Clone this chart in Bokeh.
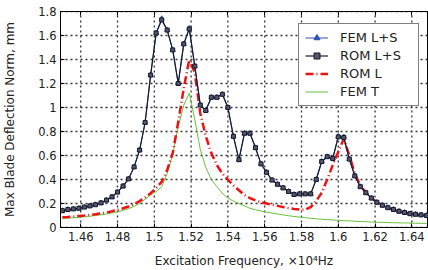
from bokeh.plotting import figure
from bokeh.models import FixedTicker, LinearAxis, Legend, LegendItem, Range1d
from bokeh.embed import file_html
from bokeh.resources import INLINE

# Excitation frequency (x 10^4 Hz)
freq = [1.450, 1.453, 1.456, 1.459, 1.462, 1.465, 1.468, 1.471, 1.474, 1.477,
        1.480, 1.483, 1.486, 1.489, 1.492, 1.495, 1.498, 1.501, 1.504, 1.507,
        1.510, 1.513, 1.516, 1.519, 1.522, 1.525, 1.528, 1.531, 1.534, 1.537,
        1.540, 1.543, 1.546, 1.549, 1.552, 1.555, 1.558, 1.561, 1.564, 1.567,
        1.570, 1.573, 1.576, 1.579, 1.582, 1.585, 1.588, 1.591, 1.594, 1.597,
        1.600, 1.603, 1.606, 1.609, 1.612, 1.615, 1.618, 1.621, 1.624, 1.627,
        1.630, 1.633, 1.636, 1.639, 1.642, 1.645, 1.648]

rom_ls = [0.14, 0.15, 0.155, 0.16, 0.17, 0.18, 0.19, 0.205, 0.228, 0.255,
          0.295, 0.345, 0.405, 0.505, 0.645, 0.875, 1.27, 1.62, 1.73, 1.645,
          1.48, 1.20, 1.53, 1.655, 1.345, 1.02, 0.975, 1.085, 1.085, 1.11,
          1.00, 0.76, 0.565, 0.785, 0.785, 0.665, 0.53, 0.46, 0.395, 0.36,
          0.33, 0.30, 0.275, 0.28, 0.28, 0.28, 0.40, 0.55, 0.59, 0.575,
          0.755, 0.75, 0.57, 0.43, 0.34, 0.29, 0.245, 0.21, 0.185, 0.165,
          0.15, 0.135, 0.125, 0.115, 0.11, 0.105, 0.10]

fem_ls = [0.14, 0.15, 0.155, 0.16, 0.17, 0.18, 0.19, 0.205, 0.228, 0.255,
          0.295, 0.345, 0.405, 0.505, 0.645, 0.875, 1.27, 1.62, 1.74, 1.645,
          1.48, 1.20, 1.53, 1.66, 1.345, 1.02, 0.975, 1.085, 1.085, 1.11,
          1.00, 0.76, 0.565, 0.785, 0.785, 0.665, 0.53, 0.46, 0.395, 0.36,
          0.33, 0.30, 0.275, 0.28, 0.28, 0.28, 0.40, 0.55, 0.59, 0.575,
          0.76, 0.755, 0.57, 0.43, 0.34, 0.29, 0.245, 0.21, 0.185, 0.165,
          0.15, 0.135, 0.125, 0.115, 0.11, 0.105, 0.10]

rom_l = [0.085, 0.088, 0.092, 0.096, 0.10, 0.105, 0.11, 0.117, 0.125, 0.135,
         0.148, 0.16, 0.175, 0.195, 0.22, 0.25, 0.285, 0.33, 0.38, 0.48,
         0.62, 0.88, 1.16, 1.40, 1.29, 0.95, 0.76, 0.62, 0.52, 0.45,
         0.40, 0.35, 0.31, 0.27, 0.245, 0.225, 0.21, 0.20, 0.19, 0.18,
         0.17, 0.162, 0.155, 0.15, 0.148, 0.17, 0.22, 0.29, 0.40, 0.52,
         0.63, 0.74, 0.60, 0.45, 0.35, 0.29, 0.245, 0.21, 0.185, 0.165,
         0.148, 0.135, 0.125, 0.115, 0.108, 0.102, 0.097]

fem_t = [0.075, 0.078, 0.081, 0.085, 0.089, 0.094, 0.10, 0.106, 0.113, 0.121,
         0.13, 0.142, 0.157, 0.176, 0.20, 0.235, 0.27, 0.30, 0.34, 0.45,
         0.61, 0.84, 1.02, 1.12, 0.90, 0.65, 0.50, 0.40, 0.34, 0.285,
         0.245, 0.22, 0.20, 0.18, 0.16, 0.148, 0.137, 0.128, 0.12, 0.112,
         0.105, 0.098, 0.092, 0.087, 0.082, 0.077, 0.073, 0.069, 0.066, 0.063,
         0.06, 0.057, 0.055, 0.052, 0.05, 0.048, 0.046, 0.044, 0.043, 0.041,
         0.04, 0.039, 0.038, 0.037, 0.036, 0.035, 0.034]

xticks = [1.46, 1.48, 1.50, 1.52, 1.54, 1.56, 1.58, 1.60, 1.62, 1.64]
xtick_labels = ["1.46", "1.48", "1.5", "1.52", "1.54", "1.56", "1.58", "1.6", "1.62", "1.64"]
yticks = [0, 0.2, 0.4, 0.6, 0.8, 1.0, 1.2, 1.4, 1.6, 1.8]
ytick_labels = ["0", "0.2", "0.4", "0.6", "0.8", "1", "1.2", "1.4", "1.6", "1.8"]

FONT = "DejaVu Sans"
X0, X1 = 1.449, 1.6485
Y0, Y1 = 0, 1.8
NAN = float("nan")

p = figure(width=428, height=270, x_range=Range1d(X0, X1), y_range=Range1d(Y0, Y1),
           output_backend="svg", toolbar_location=None,
           min_border_left=59, min_border_right=1, min_border_top=11, min_border_bottom=43)
p.background_fill_color = "white"
p.border_fill_color = "white"
p.outline_line_color = "black"
p.outline_line_width = 1
p.grid.visible = False

p.xaxis.ticker = FixedTicker(ticks=xticks)
p.xaxis.major_label_overrides = {t: l for t, l in zip(xticks, xtick_labels)}
p.yaxis.ticker = FixedTicker(ticks=yticks)
p.yaxis.major_label_overrides = {t: l for t, l in zip(yticks, ytick_labels)}

# dotted grid: one broken line through all tick positions
gx, gy = [], []
for t in xticks:
    gx += [t, t, NAN]
    gy += [Y0, Y1, NAN]
for t in yticks:
    gx += [X0, X1, NAN]
    gy += [t, t, NAN]
p.line(gx, gy, line_color="#333333", line_width=1.3, line_dash="2 3")

for ax in (p.xaxis[0], p.yaxis[0]):
    ax.major_label_text_font = FONT
    ax.major_label_text_font_size = "11.5px"
    ax.major_label_text_color = "#222222"
    ax.axis_label_text_font = FONT
    ax.axis_label_text_font_size = "12px"
    ax.axis_label_text_font_style = "normal"
    ax.axis_label_text_color = "#222222"
    ax.major_tick_in = 4
    ax.major_tick_out = 0
    ax.minor_tick_in = 0
    ax.minor_tick_out = 0
    ax.axis_line_color = "black"
    ax.major_tick_line_color = "black"

p.xaxis.axis_label = "Excitation Frequency, \u00d710\u2074Hz"
p.yaxis.axis_label = "Max Blade Deflection Norm, mm"
p.xaxis.major_label_standoff = 4
p.xaxis.axis_label_standoff = 10
p.yaxis.major_label_standoff = 4
p.yaxis.axis_label_standoff = 18

top = LinearAxis(ticker=FixedTicker(ticks=xticks),
                 major_label_overrides={t: "" for t in xticks},
                 major_label_text_font_size="1px",
                 major_label_standoff=0, major_tick_in=4, major_tick_out=0,
                 minor_tick_in=0, minor_tick_out=0, axis_line_color="black")
p.add_layout(top, "above")

r_t = p.line(freq, fem_t, line_color="#66c23a", line_width=1)
r_l = p.line(freq, rom_l, line_color="#ee1111", line_width=2.5, line_dash="8 3 1 3")
r_fl = p.line(freq, fem_ls, line_color="#2c4fb0", line_width=1)
r_fm = p.scatter(freq, fem_ls, marker="triangle", size=5, fill_color="#2c4fb0", line_color="#2c4fb0")
r_rl = p.line(freq, rom_ls, line_color="#161a30", line_width=1.2)
r_rm = p.scatter(freq, rom_ls, marker="square", size=4, fill_color="#555566", line_color="#161a30")

legend = Legend(items=[
    LegendItem(label="FEM L+S", renderers=[r_fl, r_fm]),
    LegendItem(label="ROM L+S", renderers=[r_rl, r_rm]),
    LegendItem(label="ROM L", renderers=[r_l]),
    LegendItem(label="FEM T", renderers=[r_t]),
], location=(238, 121))
legend.label_text_font = FONT
legend.label_text_font_size = "13px"
legend.label_text_color = "#222222"
legend.label_height = 15
legend.glyph_height = 15
legend.glyph_width = 23
legend.label_standoff = 12
legend.label_width = 72
legend.spacing = 3
legend.padding = 6
legend.margin = 0
legend.border_line_color = "black"
legend.border_line_width = 1.5
legend.background_fill_color = "white"
legend.background_fill_alpha = 1
p.add_layout(legend, "center")

open("out.html", "w").write(file_html(p, INLINE))
